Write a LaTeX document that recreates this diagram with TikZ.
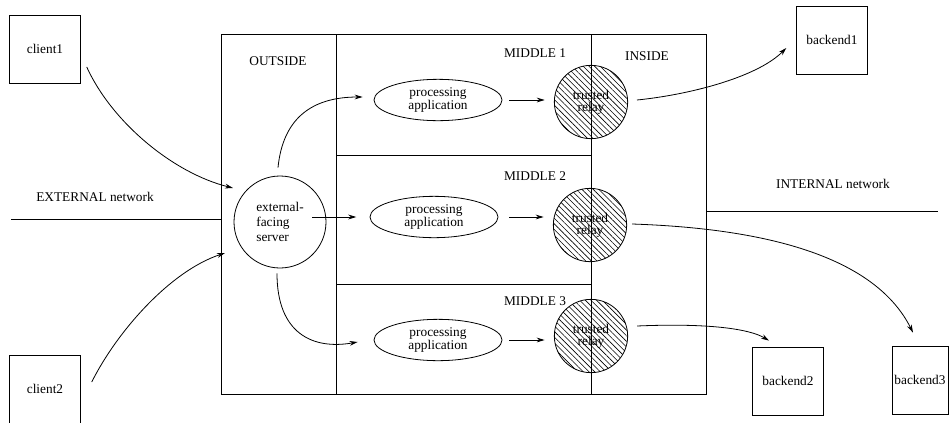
\documentclass[tikz,border=0pt]{standalone}
\usepackage{fontspec}
\setmainfont{Liberation Serif}
\usetikzlibrary{arrows.meta,positioning,calc,shapes.geometric,patterns.meta}

\begin{document}
\begin{tikzpicture}[x=0.75pt,y=-0.75pt,line width=0.6pt,
    every node/.style={font=\fontsize{10}{9}\selectfont},
    hostbox/.style={draw,minimum width=53pt,minimum height=51pt,inner sep=1pt},
    app/.style={draw,ellipse,minimum width=96pt,minimum height=31pt,inner sep=0pt,align=center},
    relay/.style={draw,circle,minimum size=55pt,inner sep=0pt,align=center,
                  pattern={Lines[angle=-45,distance=3pt,line width=0.45pt]}},
    flow/.style={-{Stealth[length=6pt,width=3.6pt]}}]
  \useasboundingbox (0,0) rectangle (949,422);
  % Zones
  \draw (221,34) rectangle (706,394);
  \draw (336,34) -- (336,394);
  \draw (591,34) -- (591,394);
  \draw (336,155) -- (591,155);
  \draw (336,284) -- (591,284);
  \node (lblOutside) at (278,61) {OUTSIDE};
  \node (lblMid1) at (535,53) {MIDDLE 1};
  \node (lblInside) at (647,56) {INSIDE};
  \node (lblMid2) at (535,176) {MIDDLE 2};
  \node (lblMid3) at (535,301) {MIDDLE 3};
  % Networks
  \coordinate (extW) at (11,219);
  \coordinate (intE) at (938,211);
  \draw (extW) -- (221,219);
  \draw (706,211) -- (intE);
  \node (lblExt) at (95,197) {EXTERNAL network};
  \node (lblInt) at (833,184) {INTERNAL network};
  % Hosts
  \node[hostbox] (client1) at (45,49) {client1};
  \node[hostbox] (client2) at (45,389) {client2};
  \node[hostbox] (backend1) at (832,40) {backend1};
  \node[hostbox] (backend2) at (788,381) {backend2};
  \node[hostbox,minimum width=42pt] (backend3) at (920,380) {backend3};
  % Server, applications, relays
  \node[draw,circle,minimum size=69pt,inner sep=0pt,align=left,
        font=\fontsize{10}{11}\selectfont] (server) at (280,222) {external-\\facing\\server};
  \node[app] (app1) at (438,100) {processing\\application};
  \node[app] (app2) at (434,217) {processing\\application};
  \node[app] (app3) at (438,340) {processing\\application};
  \node[relay] (relay1) at (591,102) {trusted\\relay};
  \node[relay] (relay2) at (590,225) {trusted\\relay};
  \node[relay] (relay3) at (591,336) {trusted\\relay};
  % Incoming
  \draw[flow] ($(client1.east)+(6,18)$) .. controls +(25,55) and +(-60,-15) .. ($(server.center)+(-47,-34)$);
  \draw[flow] ($(client2.east)+(11,-7)$) .. controls +(25,-50) and +(-55,18) .. ($(server.center)+(-55,31)$);
  % Server to applications
  \draw[flow] ($(server.north)+(-2,-8)$) .. controls +(5,-50) and +(-50,0) .. ($(app1.west)+(-11,-3)$);
  \draw[flow,shorten >=10pt] ($(server.center)+(32,-5)$) -- (app2.west);
  \draw[flow] ($(server.south)+(-3,5)$) .. controls +(0,60) and +(-45,8) .. ($(app3.west)+(-16,2)$);
  % Applications to relays
  \draw[flow,shorten <=5pt,shorten >=7pt] (app1.east) -- (app1.east -| relay1.west);
  \draw[flow,shorten <=8pt,shorten >=7pt] (app2.east) -- (app2.east -| relay2.west);
  \draw[flow,shorten <=5pt,shorten >=7pt] (app3.east) -- (app3.east -| relay3.west);
  % Relays to backends
  \draw[flow] ($(relay1.east)+(9,-2)$) .. controls +(50,-5) and +(-30,30) .. ($(backend1.west)+(-10,8)$);
  \draw[flow] ($(relay2.east)+(5,-1)$) .. controls +(150,5) and +(-35,-70) .. ($(backend3.north)+(-7,-13)$);
  \draw[flow] ($(relay3.east)+(9,-10)$) .. controls +(70,-3) and +(-20,-12) .. ($(backend2.north)+(-19,-6)$);
\end{tikzpicture}
\end{document}
